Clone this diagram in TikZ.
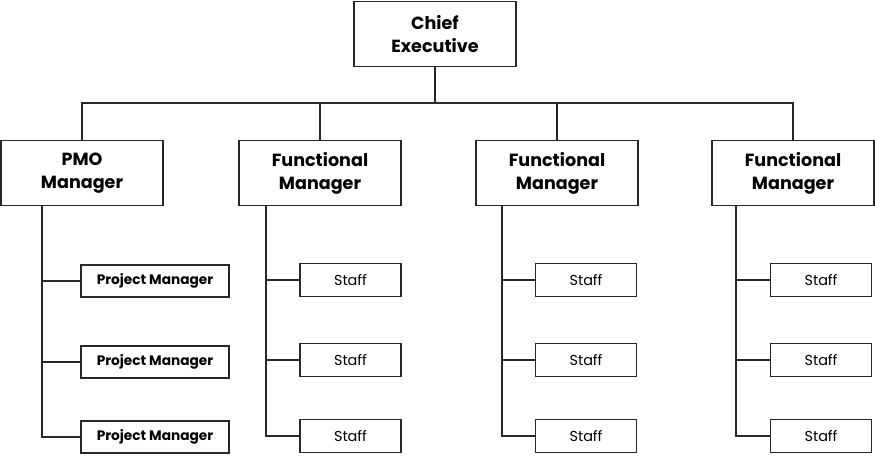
\documentclass[tikz,border=0pt]{standalone}
\usepackage{fontspec}
\setmainfont{Poppins}
\usepackage{tikz}
\usetikzlibrary{positioning}
\definecolor{inkline}{RGB}{40,40,40}

\begin{document}
\begin{tikzpicture}[
    boss/.style={rectangle, draw=inkline, line width=1pt, fill=white,
                 minimum width=3.24cm, minimum height=1.3cm, align=center,
                 font=\fontsize{10}{13}\selectfont\bfseries},
    pmbox/.style={rectangle, draw=inkline, line width=1pt, fill=white,
                  minimum width=2.96cm, minimum height=0.64cm,
                  font=\fontsize{7.8}{9}\selectfont\bfseries},
    staffbox/.style={rectangle, draw=inkline, line width=1pt, fill=white,
                     minimum width=2.02cm, minimum height=0.66cm,
                     font=\fontsize{8.2}{10}\selectfont},
    link/.style={draw=inkline, line width=1pt}
]
    \useasboundingbox (0,0) rectangle (17.5,-9.12);

    % top
    \node[boss] (ceo) at (8.70,-0.68) {Chief\\Executive};
    \coordinate (bus) at (8.70,-2.06);

    % managers row
    \node[boss] (pmo) at (1.64,-3.46) {PMO\\Manager};
    \node[boss] (fm1) at (6.40,-3.46) {Functional\\Manager};
    \node[boss] (fm2) at (11.14,-3.46) {Functional\\Manager};
    \node[boss] (fm3) at (15.86,-3.46) {Functional\\Manager};

    % bus to managers
    \draw[link] (ceo.south) -- (bus);
    \draw[link] (pmo.north) |- (fm3.north |- bus) -- (fm3.north);
    \draw[link] (fm1.north) -- (fm1.north |- bus);
    \draw[link] (fm2.north) -- (fm2.north |- bus);

    % PMO column
    \coordinate (spine0) at (0.84,-4.11);
    \node[pmbox] (pm1) at (3.10,-5.62) {Project Manager};
    \node[pmbox] (pm2) at (3.10,-7.24) {Project Manager};
    \node[pmbox] (pm3) at (3.10,-8.74) {Project Manager};
    \draw[link] (spine0) |- (pm3.west);
    \draw[link] (pm1.west) -- (pm1.west -| spine0);
    \draw[link] (pm2.west) -- (pm2.west -| spine0);

    % first functional column
    \coordinate (spine1) at (5.32,-4.11);
    \node[staffbox] (sa1) at (7.01,-5.60) {Staff};
    \node[staffbox] (sa2) at (7.01,-7.20) {Staff};
    \node[staffbox] (sa3) at (7.01,-8.72) {Staff};
    \draw[link] (spine1) |- (sa3.west);
    \draw[link] (sa1.west) -- (sa1.west -| spine1);
    \draw[link] (sa2.west) -- (sa2.west -| spine1);

    % second functional column
    \coordinate (spine2) at (10.04,-4.11);
    \node[staffbox] (sb1) at (11.72,-5.60) {Staff};
    \node[staffbox] (sb2) at (11.72,-7.20) {Staff};
    \node[staffbox] (sb3) at (11.72,-8.72) {Staff};
    \draw[link] (spine2) |- (sb3.west);
    \draw[link] (sb1.west) -- (sb1.west -| spine2);
    \draw[link] (sb2.west) -- (sb2.west -| spine2);

    % third functional column
    \coordinate (spine3) at (14.72,-4.11);
    \node[staffbox] (sc1) at (16.42,-5.60) {Staff};
    \node[staffbox] (sc2) at (16.42,-7.20) {Staff};
    \node[staffbox] (sc3) at (16.42,-8.72) {Staff};
    \draw[link] (spine3) |- (sc3.west);
    \draw[link] (sc1.west) -- (sc1.west -| spine3);
    \draw[link] (sc2.west) -- (sc2.west -| spine3);
\end{tikzpicture}
\end{document}
